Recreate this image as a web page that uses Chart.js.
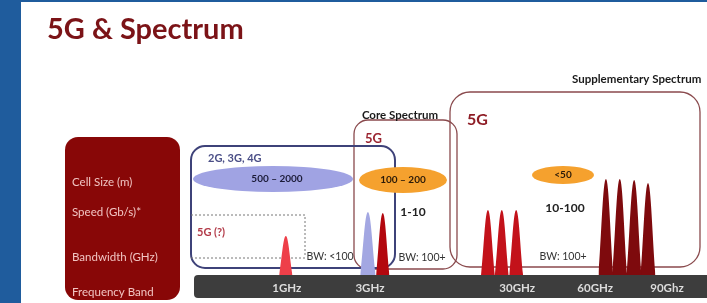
<!DOCTYPE html>
<html>
<head>
<meta charset="utf-8">
<title>5G & Spectrum</title>
<script src="https://cdn.jsdelivr.net/npm/chart.js@4.4.1/dist/chart.umd.min.js"></script>
<style>
  body { margin: 0; background: #fff; }
  canvas { display: block; }
</style>
</head>
<body>
<canvas id="chart" width="707" height="303"></canvas>
<script>
// frequency band ticks, placed along the band axis (0 - 100 of the grey bar)
let bandLabels = ['1GHz', '3GHz', '30GHz', '60GHz', '90Ghz']
let bandTicks = [18.1, 34.3, 63.0, 78.2, 92.2]

// spectrum peaks: centre on band axis, height, half width at base
let peakNames = ['1GHz', '3GHz 4G', '3GHz 5G', '30GHz a', '30GHz b', '30GHz c', '60GHz a', '60GHz b', '60GHz c', '60GHz d']
let peakCentres = [17.9, 33.9, 36.8, 57.3, 60.0, 62.8, 80.3, 83.0, 85.8, 88.5]
let peakHeights = [39, 63, 62, 65, 65, 65, 96, 96, 95, 92]
let peakWidths = [1.3, 1.5, 1.3, 1.35, 1.35, 1.35, 1.45, 1.45, 1.45, 1.45]
let peakColors = ['#ee3f49', '#a3a7e2', '#b3070e', '#c3121a', '#c3121a', '#c3121a', '#7e0a0d', '#7e0a0d', '#7e0a0d', '#7e0a0d']

// row labels in the red panel
let rowLabels = ['Cell Size (m)', 'Speed (Gb/s)*', 'Bandwidth (GHz)', 'Frequency Band']

// cell sizes and speeds per group
let cellSizes = ['500 \u2013 2000', '100 \u2013 200', '<50']
let speeds = ['1-10', '10-100']
let bandwidths = ['BW: <100', 'BW: 100+', 'BW: 100+']

let elCanvas = document.getElementById('chart')
let ctx = elCanvas.getContext('2d')

// building one filled line dataset per peak
let datasets = []
for (let i = 0; i < peakCentres.length; i++) {
    datasets.push({
        label: peakNames[i],
        data: [
            { x: peakCentres[i] - peakWidths[i], y: 0 },
            { x: peakCentres[i], y: peakHeights[i] },
            { x: peakCentres[i] + peakWidths[i], y: 0 }
        ],
        backgroundColor: peakColors[i],
        borderWidth: 0,
        pointRadius: 0,
        fill: 'origin',
        tension: 0.4
    })
}

// helper for rounded rectangles
function roundRect(c, x, y, w, h, r) {
    c.beginPath()
    c.roundRect(x, y, w, h, r)
}

function text(c, str, x, y, font, color, align) {
    c.font = font
    c.fillStyle = color
    c.textAlign = align || 'left'
    c.textBaseline = 'middle'
    c.fillText(str, x, y)
}

function ellipse(c, cx, cy, rx, ry, color) {
    c.beginPath()
    c.ellipse(cx, cy, rx, ry, 0, 0, Math.PI * 2)
    c.fillStyle = color
    c.fill()
}

// plugin that paints the slide behind the chart
let slidePlugin = {
    id: 'slide',
    beforeDraw(chart) {
        let c = chart.ctx
        let area = chart.chartArea
        c.save()
        c.fillStyle = '#ffffff'
        c.fillRect(0, 0, chart.width, chart.height)

        // blue frame
        c.fillStyle = '#1f5c9d'
        c.fillRect(0, 0, 21, chart.height)
        c.fillRect(0, 0, chart.width, 2)

        // title
        text(c, '5G & Spectrum', 47, 30, 'bold 29px Lato', '#7b1317')

        // red panel with row labels
        c.fillStyle = '#880707'
        roundRect(c, 65, 137, 115, 163, 13)
        c.fill()
        let rowY = [182, 212, 257, 292]
        for (let i = 0; i < rowLabels.length; i++) {
            text(c, rowLabels[i], 72, rowY[i], '11.5px Lato', '#f1c4c2')
        }

        // grey frequency bar
        c.fillStyle = '#3d3d3d'
        roundRect(c, area.left, area.bottom, chart.width - area.left, 23, [4, 0, 0, 4])
        c.fill()

        // supplementary spectrum box
        c.lineWidth = 1.3
        c.strokeStyle = '#8a4a4d'
        roundRect(c, 450, 92, 250, 175, 20)
        c.stroke()
        text(c, 'Supplementary Spectrum', 572, 79, 'bold 11.5px Lato', '#1a1a1a')
        text(c, '5G', 467, 120, 'bold 16px Lato', '#8e1d26')

        // core spectrum box
        roundRect(c, 354, 120, 103, 149, 14)
        c.stroke()
        text(c, 'Core Spectrum', 400, 115, 'bold 11.5px Lato', '#1a1a1a', 'center')
        text(c, '5G', 365, 139, 'bold 13px Lato', '#9b2430')

        // 2G/3G/4G box
        c.lineWidth = 2
        c.strokeStyle = '#3e4279'
        roundRect(c, 191, 146, 204, 122, 14)
        c.stroke()
        text(c, '2G, 3G, 4G', 208, 158, 'bold 11px Lato', '#4b4f87')

        // dotted 5G (?) region
        c.lineWidth = 1
        c.strokeStyle = '#777'
        c.setLineDash([2, 2])
        c.beginPath()
        c.moveTo(191, 215)
        c.lineTo(305, 215)
        c.lineTo(305, 256)
        c.moveTo(191, 258)
        c.lineTo(305, 258)
        c.stroke()
        c.setLineDash([])
        text(c, '5G (?)', 197, 232, 'bold 11px Lato', '#b23a48')

        // cell size ellipses
        ellipse(c, 273, 179, 80, 13, '#a0a3e3')
        ellipse(c, 403, 180, 44, 13, '#f5a12e')
        ellipse(c, 563, 175, 31, 9, '#f5a12e')
        text(c, cellSizes[0], 277, 179, 'bold 10px Lato', '#1b1b38', 'center')
        text(c, cellSizes[1], 403, 180, 'bold 10px Lato', '#2a1a08', 'center')
        text(c, cellSizes[2], 563, 175, 'bold 10px Lato', '#2a1a08', 'center')

        // speeds
        text(c, speeds[0], 413, 212, 'bold 12px Lato', '#222', 'center')
        text(c, speeds[1], 565, 208, 'bold 12px Lato', '#222', 'center')

        // bandwidths
        text(c, bandwidths[0], 330, 257, '10.5px Lato', '#333', 'center')
        text(c, bandwidths[1], 422, 258, '10.5px Lato', '#333', 'center')
        text(c, bandwidths[2], 563, 257, '10.5px Lato', '#333', 'center')
        c.restore()
    }
}

new Chart(ctx, {
    type: 'line',
    data: { datasets: datasets },
    plugins: [slidePlugin],
    options: {
        responsive: false,
        animation: false,
        layout: { padding: { left: 194, right: 0, top: 175, bottom: 0 } },
        plugins: {
            legend: { display: false },
            tooltip: { enabled: false }
        },
        scales: {
            x: {
                type: 'linear',
                min: 0,
                max: 100,
                position: 'bottom',
                grid: { display: false, drawTicks: false },
                border: { display: false },
                afterFit: function(scale) { scale.height = 28 },
                afterBuildTicks: function(scale) {
                    scale.ticks = bandTicks.map(v => ({ value: v }))
                },
                ticks: {
                    autoSkip: false,
                    maxRotation: 0,
                    padding: 6,
                    color: '#dcdcdc',
                    font: { family: 'Lato', size: 11.5, weight: 'bold' },
                    callback: function(value, index) { return bandLabels[index] }
                }
            },
            y: {
                display: false,
                min: 0,
                max: 100
            }
        }
    }
})
</script>
</body>
</html>
